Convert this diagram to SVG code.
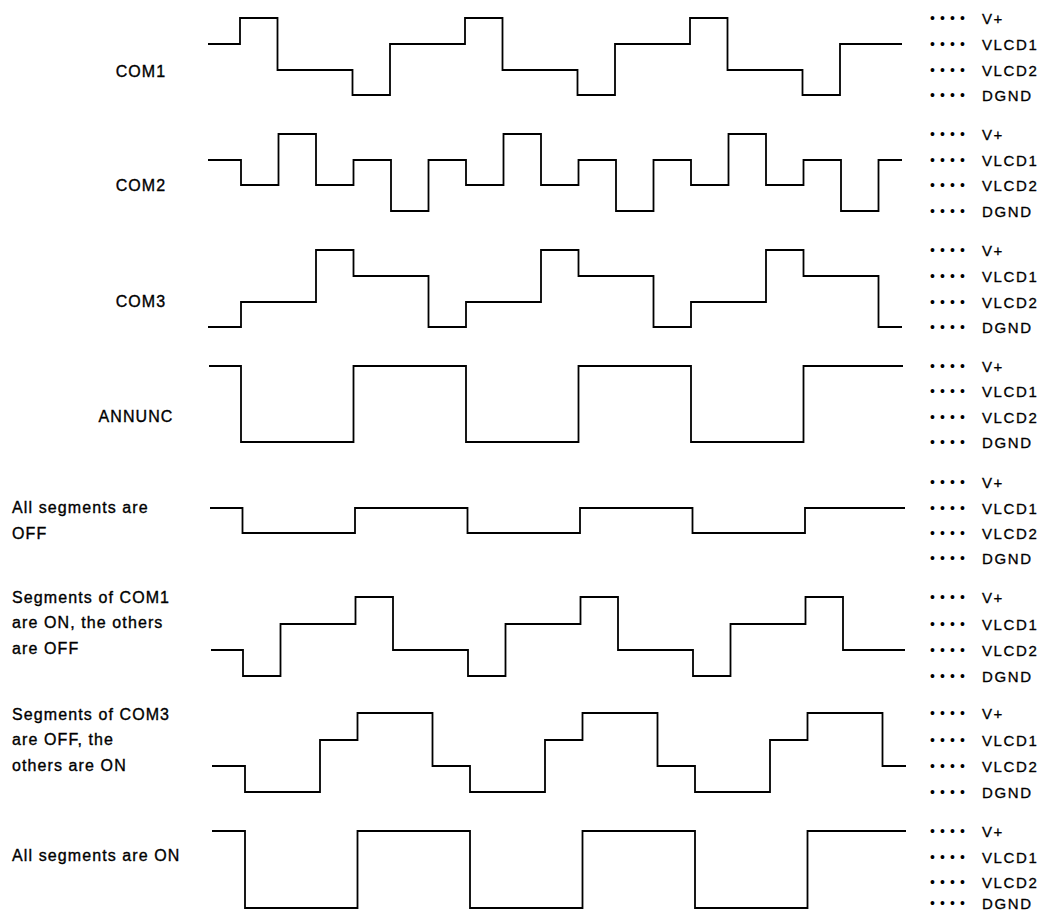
<svg xmlns="http://www.w3.org/2000/svg" width="1060" height="911" viewBox="0 0 1060 911">
<style>
.w{fill:none;stroke:#000;stroke-width:1.8;stroke-linejoin:miter;stroke-linecap:butt}
.l{font-family:"Liberation Sans",Arial,Helvetica,sans-serif;font-size:16px;letter-spacing:1.1px;fill:#000;stroke:#000;stroke-width:0.35px}
.c{text-anchor:middle}
.r{font-family:"Liberation Sans",Arial,Helvetica,sans-serif;font-size:15px;letter-spacing:1.6px;fill:#000;stroke:#000;stroke-width:0.3px}
.d{font-family:"Liberation Sans",Arial,Helvetica,sans-serif;font-size:14px;letter-spacing:5.1px;fill:#000}
</style>
<rect width="1060" height="911" fill="#fff"/>
<g id="row-com1">
<text class="l c" x="141" y="77">COM1</text>
<path class="w" d="M208,44 H240 V18 H277.5 V70 H352.5 V95 H390 V44 H465 V18 H502.5 V70 H577.5 V95 H615 V44 H690 V18 H727.5 V70 H802.5 V95 H840 V44 H902"/>
<text class="d" x="930" y="23">••••</text><text class="r" x="982" y="24">V+</text>
<text class="d" x="930" y="49">••••</text><text class="r" x="982" y="50">VLCD1</text>
<text class="d" x="930" y="75">••••</text><text class="r" x="982" y="76">VLCD2</text>
<text class="d" x="930" y="100">••••</text><text class="r" x="982" y="101">DGND</text>
</g>
<g id="row-com2">
<text class="l c" x="141" y="191">COM2</text>
<path class="w" d="M208,160 H241 V185 H278.5 V134 H316 V185 H353.5 V160 H391 V211 H428.5 V160 H466 V185 H503.5 V134 H541 V185 H578.5 V160 H616 V211 H653.5 V160 H691 V185 H728.5 V134 H766 V185 H803.5 V160 H841 V211 H878.5 V160 H902"/>
<text class="d" x="930" y="139">••••</text><text class="r" x="982" y="140">V+</text>
<text class="d" x="930" y="165">••••</text><text class="r" x="982" y="166">VLCD1</text>
<text class="d" x="930" y="190">••••</text><text class="r" x="982" y="191">VLCD2</text>
<text class="d" x="930" y="216">••••</text><text class="r" x="982" y="217">DGND</text>
</g>
<g id="row-com3">
<text class="l c" x="141" y="307">COM3</text>
<path class="w" d="M208,327 H241 V302 H316 V250 H353.5 V276 H428.5 V327 H466 V302 H541 V250 H578.5 V276 H653.5 V327 H691 V302 H766 V250 H803.5 V276 H878.5 V327 H902"/>
<text class="d" x="930" y="255">••••</text><text class="r" x="982" y="256">V+</text>
<text class="d" x="930" y="281">••••</text><text class="r" x="982" y="282">VLCD1</text>
<text class="d" x="930" y="307">••••</text><text class="r" x="982" y="308">VLCD2</text>
<text class="d" x="930" y="332">••••</text><text class="r" x="982" y="333">DGND</text>
</g>
<g id="row-annunc">
<text class="l c" x="136" y="422">ANNUNC</text>
<path class="w" d="M209,366 H241 V442 H353.5 V366 H466 V442 H578.5 V366 H691 V442 H803.5 V366 H903"/>
<text class="d" x="930" y="371">••••</text><text class="r" x="982" y="372">V+</text>
<text class="d" x="930" y="396">••••</text><text class="r" x="982" y="397">VLCD1</text>
<text class="d" x="930" y="422">••••</text><text class="r" x="982" y="423">VLCD2</text>
<text class="d" x="930" y="447">••••</text><text class="r" x="982" y="448">DGND</text>
</g>
<g id="row-all-off">
<text class="l" x="12" y="513">All segments are</text>
<text class="l" x="12" y="539">OFF</text>
<path class="w" d="M210,508 H242.5 V533 H355 V508 H467.5 V533 H580 V508 H692.5 V533 H805 V508 H905"/>
<text class="d" x="930" y="487">••••</text><text class="r" x="982" y="488">V+</text>
<text class="d" x="930" y="513">••••</text><text class="r" x="982" y="514">VLCD1</text>
<text class="d" x="930" y="538">••••</text><text class="r" x="982" y="539">VLCD2</text>
<text class="d" x="930" y="563">••••</text><text class="r" x="982" y="564">DGND</text>
</g>
<g id="row-com1-on">
<text class="l" x="12" y="603">Segments of COM1</text>
<text class="l" x="12" y="628">are ON, the others</text>
<text class="l" x="12" y="654">are OFF</text>
<path class="w" d="M211,650 H243 V676 H280.5 V624 H355.5 V597 H393 V650 H468 V676 H505.5 V624 H580.5 V597 H618 V650 H693 V676 H730.5 V624 H805.5 V597 H843 V650 H905"/>
<text class="d" x="930" y="602">••••</text><text class="r" x="982" y="603">V+</text>
<text class="d" x="930" y="629">••••</text><text class="r" x="982" y="630">VLCD1</text>
<text class="d" x="930" y="655">••••</text><text class="r" x="982" y="656">VLCD2</text>
<text class="d" x="930" y="681">••••</text><text class="r" x="982" y="682">DGND</text>
</g>
<g id="row-com3-off">
<text class="l" x="12" y="720">Segments of COM3</text>
<text class="l" x="12" y="745">are OFF, the</text>
<text class="l" x="12" y="771">others are ON</text>
<path class="w" d="M212,766 H245 V792 H320 V740 H357.5 V713 H432.5 V766 H470 V792 H545 V740 H582.5 V713 H657.5 V766 H695 V792 H770 V740 H807.5 V713 H882.5 V766 H906"/>
<text class="d" x="930" y="718">••••</text><text class="r" x="982" y="719">V+</text>
<text class="d" x="930" y="745">••••</text><text class="r" x="982" y="746">VLCD1</text>
<text class="d" x="930" y="771">••••</text><text class="r" x="982" y="772">VLCD2</text>
<text class="d" x="930" y="797">••••</text><text class="r" x="982" y="798">DGND</text>
</g>
<g id="row-all-on">
<text class="l" x="12" y="861">All segments are ON</text>
<path class="w" d="M212,831 H245 V908 H357.5 V831 H470 V908 H582.5 V831 H695 V908 H807.5 V831 H906"/>
<text class="d" x="930" y="836">••••</text><text class="r" x="982" y="837">V+</text>
<text class="d" x="930" y="862">••••</text><text class="r" x="982" y="863">VLCD1</text>
<text class="d" x="930" y="887">••••</text><text class="r" x="982" y="888">VLCD2</text>
<text class="d" x="930" y="908">••••</text><text class="r" x="982" y="909">DGND</text>
</g>
<g id="connectors"></g>
</svg>
